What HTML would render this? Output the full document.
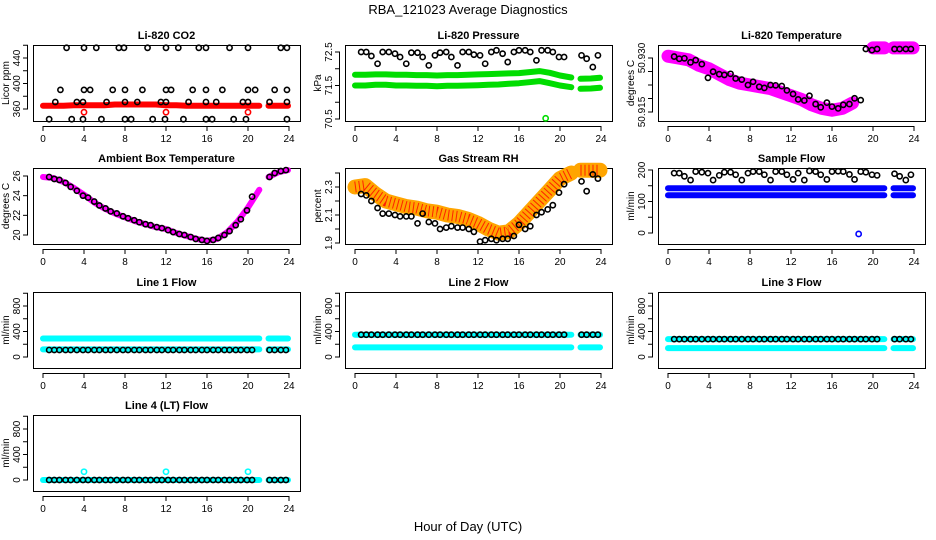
<!DOCTYPE html>
<html><head><meta charset="utf-8">
<style>
html,body{margin:0;padding:0;background:#fff;}
svg{display:block;font-family:"Liberation Sans",Arial,sans-serif;}
.t{font-size:11px;font-weight:bold;}
.tk{font-size:10px;}
</style></head>
<body>
<svg id="chart" width="936" height="540" viewBox="0 0 936 540">
<text x="468" y="14" text-anchor="middle" font-size="13">RBA_121023  Average Diagnostics</text>
<text x="468" y="531" text-anchor="middle" font-size="13">Hour of Day (UTC)</text>
</svg>
<script>
// ---- data ----
const xTicks = [0,4,8,12,16,20,24];
const ptHours = [0.6,1.1,1.6,2.2,2.7,3.3,3.9,4.4,5.0,5.5,6.1,6.6,7.2,7.8,8.3,8.9,9.4,10.0,10.5,11.1,11.6,12.2,12.7,13.3,13.8,14.4,14.9,15.5,16.0,16.6,17.1,17.7,18.2,18.8,19.3,19.9,20.4,22.1,22.6,23.2,23.7];
const bandHours = [0,1,2,3,4,5,6,7,8,9,10,11,12,13,14,15,16,17,18,19,20,21.1,null,22,23,23.9];

const co2Hours = [2.3,4,5.2,7.4,7.9,10.2,12,13.2,15.2,15.9,18.2,20,23.2,23.8, 1.7,4,4.6,6.8,8,9.7,12,12.5,14.6,15.9,17.5,20,20.7,22.6,23.8, 1.2,3.3,3.9,6.2,8,9.2,11.5,12,14.2,15.9,16.9,19.5,20,22.1,23.8, 0.6,2.8,3.9,5.7,8,8.6,10.7,11.9,13.7,15.9,16.5,18.6,19.8,23.8];
const co2Values = [456,456,456,456,456,456,456,456,456,456,456,456,456,456, 390,390,390,390,390,390,390,390,390,390,390,390,390,390,390, 371,371,371,371,371,371,371,371,371,371,371,371,371,371,371, 344,344,344,344,344,344,344,344,344,344,344,344,344,344];
const co2Band = [365,365,365,366,366,366,366,367,367,367,367,367,366,366,365,365,365,365,365,365,365,365,null,365,365,365];
const co2OutHours = [4,12,20];
const co2OutValues = [355,355,355];

const presValues = [72.5,72.5,72.38,72.15,72.5,72.5,72.45,72.35,72.15,72.48,72.48,72.35,72.1,72.4,72.48,72.5,72.35,72.1,72.5,72.5,72.42,72.4,72.15,72.5,72.55,72.45,72.2,72.5,72.55,72.55,72.5,72.25,72.55,72.55,72.5,72.35,72.35,72.4,72.3,72.05,72.4];
const presBandHi = [71.82,71.82,71.83,71.83,71.82,71.82,71.81,71.81,71.8,71.81,71.81,71.82,71.83,71.84,71.85,71.86,71.87,71.9,71.93,71.88,71.8,71.74,null,71.7,71.71,71.73];
const presBandLo = [71.5,71.5,71.52,71.52,71.5,71.5,71.49,71.49,71.48,71.49,71.49,71.5,71.51,71.52,71.53,71.55,71.57,71.6,71.63,71.57,71.5,71.45,null,71.4,71.41,71.43];
const presOutHours = [18.6];
const presOutValues = [70.52];

const tempValues = [50.9304,50.9298,50.9299,50.9288,50.9294,50.9283,50.9245,50.9262,50.9255,50.9253,50.9256,50.9243,50.9240,50.9225,50.9234,50.9220,50.9217,50.9225,50.9224,50.9222,50.9210,50.9200,50.9185,50.9182,50.9195,50.9172,50.9163,50.9176,50.9165,50.9160,50.9170,50.9172,50.9188,50.9183,50.9325,50.9322,50.9325,50.9325,50.9325,50.9325,50.9325];
const tempBand = [50.9305,50.930,50.9295,50.928,50.927,50.9255,50.924,50.923,50.9225,50.922,50.9215,50.9205,50.9195,50.9185,50.917,50.916,50.9155,50.916,50.9175,null,50.9328,50.9328,null,50.9328,50.9328,50.9328];

const ambValues = [25.9,25.7,25.6,25.3,24.9,24.5,24.0,23.8,23.4,23.0,22.7,22.4,22.2,21.9,21.7,21.5,21.3,21.1,21.0,20.8,20.7,20.5,20.3,20.1,20.0,19.8,19.6,19.5,19.4,19.5,19.7,20.0,20.4,21.0,21.6,22.5,23.9,25.9,26.3,26.5,26.6];
const ambBand = [25.9,25.8,25.4,24.8,24.1,23.3,22.7,22.2,21.8,21.4,21.1,20.8,20.6,20.2,19.9,19.6,19.4,19.6,20.3,21.4,22.8,24.6,null,25.9,26.4,26.6];

const rhValues = [2.25,2.24,2.2,2.15,2.11,2.11,2.1,2.09,2.09,2.09,2.04,2.11,2.05,2.04,2.0,2.01,2.02,2.01,2.01,2.0,1.98,1.91,1.92,1.93,1.92,1.93,1.93,1.95,2.03,2.0,2.02,2.1,2.12,2.14,2.17,2.26,2.32,2.34,2.27,2.39,2.36];
const rhBand = [2.3,2.31,2.25,2.2,2.18,2.16,2.15,2.13,2.12,2.1,2.09,2.07,2.04,2.0,1.97,1.98,2.04,2.12,2.2,2.28,2.36,2.4,null,2.42,2.42,2.42];

const flowValues = [190,190,180,168,195,193,190,168,183,193,193,185,168,190,195,195,185,168,195,195,185,170,190,168,197,195,185,170,195,196,195,186,170,195,193,185,183,188,180,168,185];
const flowBandHi = [142,142,142,142,142,142,142,142,142,142,142,142,142,142,142,142,142,142,142,142,142,142,null,142,142,142];
const flowBandLo = [120,120,120,120,120,120,120,120,120,120,120,120,120,120,120,120,120,120,120,120,120,120,null,120,120,120];
const flowOutHours = [18.6];
const flowOutValues = [-3];

const line1Black = 110, line1Hi = 290, line1Lo = 120;
const line2Black = 350, line2Hi = 350, line2Lo = 150;
const line3Black = 280, line3Hi = 280, line3Lo = 140;
const line4Black = 0, line4Band = 0;
const line4OutHours = [4,12,20];
const line4OutValues = [130,130,130];

// ---- layout ----
const svg = document.getElementById('chart');
const NS = 'http://www.w3.org/2000/svg';
const colX0 = [43,355,668];
const rowTop = [45,168,292,415];
const BOXH = 76;

function mk(tag, attrs){
  const e = document.createElementNS(NS, tag);
  for (const k in attrs) e.setAttribute(k, attrs[k]);
  svg.appendChild(e);
  return e;
}

function panel(col,row,title,ytitle,vA,yA,vB,yB,ticks,labels,slug){
  const x0 = colX0[col];
  const sx = v => x0 + v*(246/24);
  const sy = v => yA + (v-vA)*(yB-yA)/(vB-vA);
  const top = rowTop[row], bot = top+BOXH, left = x0-10, right = x0+257;
  const box = mk('rect',{x:left+0.5,y:top+0.5,width:right-left,height:BOXH,fill:'none',stroke:'#000','stroke-width':1});
  
  
  const tt = mk('text',{x:(left+right)/2,y:top-6,'text-anchor':'middle',class:'t'});
  tt.textContent = title;
  
  
  const yt = mk('text',{x:0,y:0,'text-anchor':'middle',class:'tk',transform:`translate(${left-24},${top+BOXH/2}) rotate(-90)`});
  yt.textContent = ytitle;
  
  
  const xl = mk('line',{x1:sx(0),x2:sx(24),y1:bot+5.5,y2:bot+5.5,stroke:'#000'});
  
  
  xTicks.forEach(t=>{
    const l = mk('line',{x1:sx(t),x2:sx(t),y1:bot+5,y2:bot+10,stroke:'#000'});
    
    
    const tx = mk('text',{x:sx(t),y:bot+21,'text-anchor':'middle',class:'tk'});
    tx.textContent = t;
    
    
  });
  const yl = mk('line',{x1:left-5.5,x2:left-5.5,y1:sy(ticks[0]),y2:sy(ticks[ticks.length-1]),stroke:'#000'});
  
  
  ticks.forEach((t,i)=>{
    const l = mk('line',{x1:left-10,x2:left-5,y1:sy(t),y2:sy(t),stroke:'#000'});
    
    
    if (labels[i]){
      const tx = mk('text',{x:0,y:0,'text-anchor':'middle',class:'tk',transform:`translate(${left-13},${sy(t)}) rotate(-90)`});
      tx.textContent = labels[i];
      
      
    }
  });
  return {sx,sy,slug};
}

function band(p,vals,color,width,dash){
  let segs=[], cur=[];
  bandHours.forEach((h,i)=>{
    if (h===null || vals[i]===null){ if(cur.length) segs.push(cur); cur=[]; }
    else cur.push(p.sx(h).toFixed(1)+','+p.sy(vals[i]).toFixed(1));
  });
  if (cur.length) segs.push(cur);
  segs.forEach(s=>{
    const pl = mk('polyline',{points:s.join(' '),fill:'none',stroke:color,'stroke-width':width,'stroke-linecap':dash?'butt':'round','stroke-linejoin':'round'});
    if (dash) pl.setAttribute('stroke-dasharray', dash);
    
    
  });
}
function constBand(p,v,color,width){
  band(p, bandHours.map(h=>h===null?null:v), color, width);
}
function pts(p,hours,vals,color){
  hours.forEach((h,i)=>{
    const c = mk('circle',{cx:p.sx(h),cy:p.sy(vals[i]),r:2.6,fill:'none',stroke:color,'stroke-width':1.6});
    
    
  });
}

let p = panel(0,0,'Li-820 CO2','Licor ppm',360,109,440,58,[360,380,400,420,440,460],['360','','400','','440',''],'co2');
band(p,co2Band,'#ff0000',6);
pts(p,co2Hours,co2Values,'#000');
pts(p,co2OutHours,co2OutValues,'#ff0000');

p = panel(1,0,'Li-820 Pressure','kPa',70.5,119,72.5,52,[70.5,71,71.5,72,72.5],['70.5','','71.5','','72.5'],'pressure');
band(p,presBandHi,'#00dd00',6);
band(p,presBandLo,'#00dd00',6);
pts(p,ptHours,presValues,'#000');
pts(p,presOutHours,presOutValues,'#00dd00');

p = panel(2,0,'Li-820 Temperature','degrees C',50.915,112,50.930,58,[50.915,50.91875,50.9225,50.92625,50.930],['50.915','','','','50.930'],'li820-temp');
band(p,tempBand,'#ff00ff',13);
pts(p,ptHours,tempValues,'#000');

p = panel(0,1,'Ambient Box Temperature','degrees C',20,235,26,176,[20,22,24,26],['20','22','24','26'],'ambient-temp');
band(p,ambBand,'#ff00ff',6);
pts(p,ptHours,ambValues,'#000');

p = panel(1,1,'Gas Stream RH','percent',1.9,243,2.3,187,[1.9,2.0,2.1,2.2,2.3,2.4],['1.9','','2.1','','2.3',''],'gas-rh');
band(p,rhBand,'#ffa500',15);
band(p,rhBand,'#ff2000',11,'1 3');
pts(p,ptHours,rhValues,'#000');

p = panel(2,1,'Sample Flow','ml/min',0,233,200,170,[0,50,100,150,200],['0','','100','','200'],'sample-flow');
band(p,flowBandHi,'#0000ff',6);
band(p,flowBandLo,'#0000ff',6);
pts(p,ptHours,flowValues,'#000');
pts(p,flowOutHours,flowOutValues,'#0000ff');

const flowTicks=[0,200,400,600,800,1000], flowLabels=['0','','400','','800',''];
p = panel(0,2,'Line 1 Flow','ml/min',0,357,800,306,flowTicks,flowLabels,'line1-flow');
constBand(p,line1Hi,'#00ffff',6); constBand(p,line1Lo,'#00ffff',6);
pts(p,ptHours,ptHours.map(()=>line1Black),'#000');

p = panel(1,2,'Line 2 Flow','ml/min',0,357,800,306,flowTicks,flowLabels,'line2-flow');
constBand(p,line2Hi,'#00ffff',6); constBand(p,line2Lo,'#00ffff',6);
pts(p,ptHours,ptHours.map(()=>line2Black),'#000');

p = panel(2,2,'Line 3 Flow','ml/min',0,357,800,306,flowTicks,flowLabels,'line3-flow');
constBand(p,line3Hi,'#00ffff',6); constBand(p,line3Lo,'#00ffff',6);
pts(p,ptHours,ptHours.map(()=>line3Black),'#000');

p = panel(0,3,'Line 4 (LT) Flow','ml/min',0,480,800,429,flowTicks,flowLabels,'line4-flow');
constBand(p,line4Band,'#00ffff',6);
pts(p,ptHours,ptHours.map(()=>line4Black),'#000');
pts(p,line4OutHours,line4OutValues,'#00ffff');
</script>
</body></html>
